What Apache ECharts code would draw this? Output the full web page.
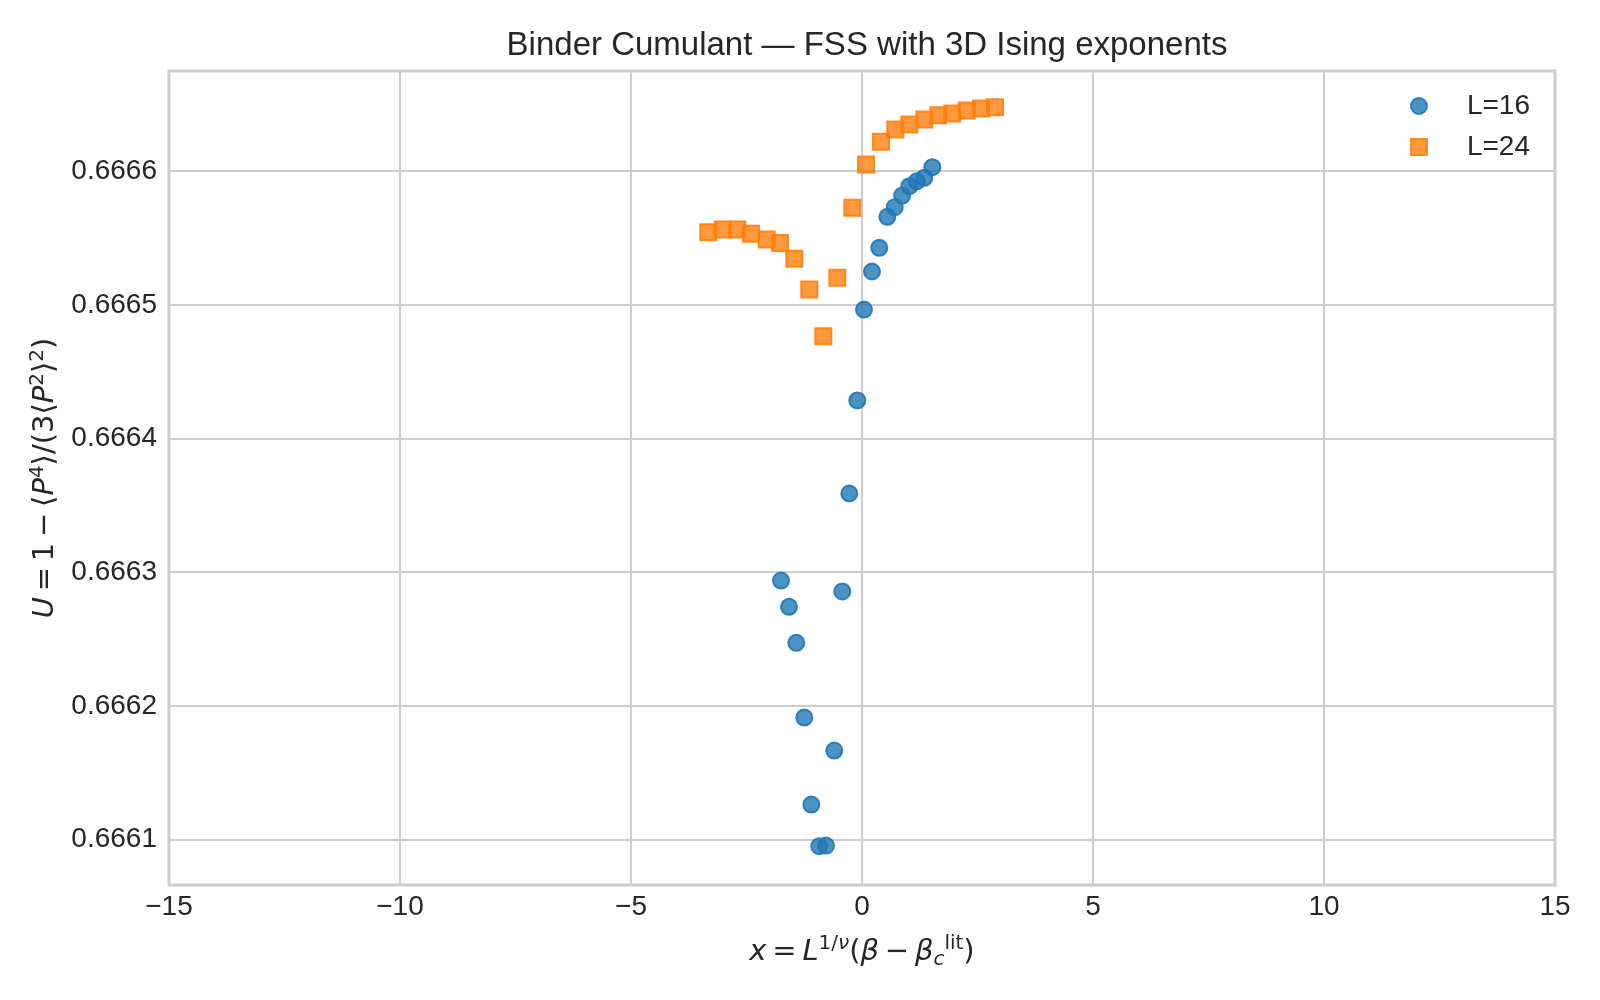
<!DOCTYPE html>
<html>
<head>
<meta charset="utf-8">
<script src="https://cdn.jsdelivr.net/npm/echarts@6/dist/echarts.min.js"></script>
<style>
	html, body { margin: 0; padding: 0; background: #ffffff; }
	#binder { width: 1600px; height: 1000px; }
</style>
</head>
<body>
<div id="binder"></div>
<script>
	"use strict";

	/*-----data-----*/
	var seriesNames = ['L=16', 'L=24'];

	var xL16 = [-1.753, -1.580, -1.422, -1.249, -1.097, -0.924, -0.779, -0.600, -0.426, -0.275, -0.102,
		0.043, 0.216, 0.374, 0.548, 0.708, 0.868, 1.024, 1.184, 1.348, 1.522];
	var uL16 = [0.6662938, 0.6662741, 0.6662472, 0.6661913, 0.6661262, 0.6660950, 0.6660955, 0.6661666,
		0.6662856, 0.6663589, 0.6664285, 0.6664965, 0.6665250, 0.6665427, 0.6665659, 0.6665731,
		0.6665818, 0.6665888, 0.6665925, 0.6665951, 0.6666030];

	var xL24 = [-3.327, -3.015, -2.699, -2.403, -2.063, -1.775, -1.465, -1.141, -0.838, -0.535, -0.210,
		0.087, 0.411, 0.721, 1.024, 1.349, 1.652, 1.955, 2.266, 2.576, 2.879];
	var uL24 = [0.6665544, 0.6665564, 0.6665564, 0.6665532, 0.6665489, 0.6665464, 0.6665345, 0.6665115,
		0.6664766, 0.6665203, 0.6665726, 0.6666050, 0.6666220, 0.6666312, 0.6666349, 0.6666387,
		0.6666419, 0.6666432, 0.6666454, 0.6666469, 0.6666479];

	var xTicks = [-15, -10, -5, 0, 5, 10, 15];
	var uTicks = ['0.6661', '0.6662', '0.6663', '0.6664', '0.6665', '0.6666'];

	function pairs(xs, ys) {
		var out = [];
		for (var i = 0; i < xs.length; i++) out.push([xs[i], ys[i]]);
		return out;
	}

	var textColor = '#262626';
	var gridColor = '#cccccc';
	var sans = 'Liberation Sans, Arial, sans-serif';
	var mathFont = 'DejaVu Sans';
	var thin = '\u2009';
	// square legend icon that keeps its aspect inside a wide item box
	var squareIcon = 'path://M0,0L10,0L10,10L0,10Z';

	var mathRich = {
		i: { fontFamily: mathFont, fontStyle: 'italic', fontSize: 29, color: textColor },
		n: { fontFamily: mathFont, fontSize: 29, color: textColor },
		sup: { fontFamily: mathFont, fontSize: 20, color: textColor, verticalAlign: 'top', lineHeight: 36 },
		isup: { fontFamily: mathFont, fontStyle: 'italic', fontSize: 20, color: textColor, verticalAlign: 'top', lineHeight: 36 },
		isub: { fontFamily: mathFont, fontStyle: 'italic', fontSize: 20, color: textColor, verticalAlign: 'bottom', lineHeight: 36 }
	};

	var option = {
		backgroundColor: '#ffffff',
		animation: false,
		title: {
			text: 'Binder Cumulant \u2014 FSS with 3D Ising exponents',
			left: 862,
			textAlign: 'center',
			top: 24,
			textStyle: { fontFamily: sans, fontSize: 33, fontWeight: 'normal', color: textColor }
		},
		grid: {
			left: 169,
			right: 45,
			top: 71,
			bottom: 115,
			show: true,
			borderColor: gridColor,
			borderWidth: 3,
			backgroundColor: '#ffffff'
		},
		legend: {
			data: [
				{ name: seriesNames[0], icon: 'circle' },
				{ name: seriesNames[1], icon: squareIcon }
			],
			orient: 'vertical',
			right: 70,
			top: 90,
			padding: 0,
			itemWidth: 86,
			itemHeight: 16,
			itemGap: 9,
			symbolKeepAspect: true,
			textStyle: { fontFamily: sans, fontSize: 28, color: textColor, lineHeight: 32 }
		},
		xAxis: {
			type: 'value',
			min: xTicks[0],
			max: xTicks[xTicks.length - 1],
			interval: 5,
			name: '{i|x}{n|' + thin + '=' + thin + '}{i|L}{sup|1/}{isup|\u03bd}{n|(}{i|\u03b2}{n|' + thin + '\u2212' + thin + '}{i|\u03b2}{isub|c}{sup|lit}{n|)}',
			nameLocation: 'middle',
			nameGap: 49,
			nameTextStyle: { rich: mathRich },
			axisLine: { show: false },
			axisTick: { show: false },
			axisLabel: {
				margin: 8,
				fontFamily: sans,
				fontSize: 28,
				color: textColor,
				formatter: function (v) { return String(v).replace('-', '\u2212'); }
			},
			splitLine: { lineStyle: { color: gridColor, width: 2 } }
		},
		yAxis: {
			type: 'value',
			min: 0.666066,
			max: 0.666675,
			splitNumber: 6,
			name: '{i|U}{n|' + thin + '=' + thin + '1' + thin + '\u2212' + thin + '\u27e8}{i|P}{sup|4}{n|\u27e9/(3\u27e8}{i|P}{sup|2}{n|\u27e9}{sup|2}{n|)}',
			nameLocation: 'middle',
			nameGap: 103,
			nameRotate: 90,
			nameTextStyle: { rich: mathRich },
			axisLine: { show: false },
			axisTick: { show: false },
			axisLabel: {
				margin: 12,
				fontFamily: sans,
				fontSize: 28,
				color: textColor,
				showMinLabel: false,
				showMaxLabel: false,
				formatter: function (v) {
					var s = v.toFixed(4);
					return uTicks.indexOf(s) >= 0 && Math.abs(v - parseFloat(s)) < 2e-7 ? s : '';
				}
			},
			splitLine: { lineStyle: { color: gridColor, width: 2 } }
		},
		series: [
			{
				name: seriesNames[0],
				type: 'scatter',
				symbol: 'circle',
				symbolSize: 16,
				data: pairs(xL16, uL16),
				itemStyle: {
					opacity: 1,
					color: 'rgba(31, 119, 180, 0.8)',
					borderColor: 'rgba(31, 119, 180, 0.9)',
					borderWidth: 2
				}
			},
			{
				name: seriesNames[1],
				type: 'scatter',
				symbol: 'rect',
				symbolSize: 16,
				data: pairs(xL24, uL24),
				itemStyle: {
					opacity: 1,
					color: 'rgba(255, 127, 14, 0.8)',
					borderColor: 'rgba(255, 127, 14, 0.9)',
					borderWidth: 2
				}
			}
		]
	};

	var chart = echarts.init(document.getElementById('binder'));
	chart.setOption(option);
	window.addEventListener('resize', function () {
		chart.resize();
	});
</script>
</body>
</html>
